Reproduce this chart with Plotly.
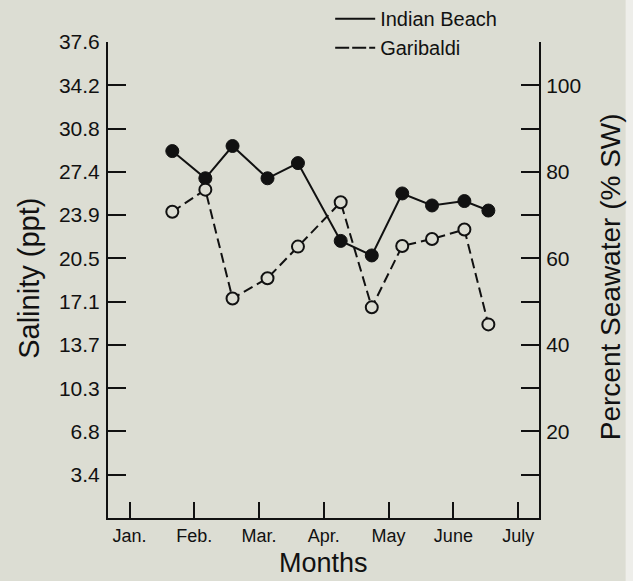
import plotly.graph_objects as go

# Sampling dates as fractional months from the start of January (Jan. = 0)
sample_month = [0.66, 1.17, 1.59, 2.13, 2.60, 3.26, 3.74, 4.21, 4.67, 5.17, 5.54]

# Salinity (ppt) at each station
indian_beach = [29.0, 26.85, 29.4, 26.85, 28.05, 21.9, 20.75, 25.65, 24.7, 25.05, 24.3]
garibaldi = [24.2, 25.95, 17.35, 18.95, 21.45, 24.95, 16.65, 21.5, 22.05, 22.8, 15.3]

month_labels = ["Jan.", "Feb.", "Mar.", "Apr.", "May", "June", "July"]
salinity_labels = ["3.4", "6.8", "10.3", "13.7", "17.1", "20.5", "23.9", "27.4", "30.8", "34.2", "37.6"]
percent_ticks = [10, 20, 30, 40, 50, 60, 70, 80, 90, 100, 110]
percent_labels = ["", "20", "", "40", "", "60", "", "80", "", "100", ""]

SEAWATER_PPT = 34.2  # 100 % seawater
ppt_ticks = [SEAWATER_PPT * p / 100 for p in percent_ticks]

BG = "rgb(220,221,211)"
INK = "#111111"
FONT = "Liberation Sans, Arial, Helvetica, sans-serif"

fig = go.Figure()

fig.add_trace(go.Scatter(
    x=sample_month, y=indian_beach, mode="lines+markers",
    line=dict(color=INK, width=2),
    marker=dict(symbol="circle", size=13, color=INK, line=dict(color=INK, width=1)),
    showlegend=False, name="Indian Beach",
))
fig.add_trace(go.Scatter(
    x=sample_month, y=garibaldi, mode="lines+markers",
    line=dict(color=INK, width=2, dash="10px,5px"),
    marker=dict(symbol="circle", size=12, color=BG, line=dict(color=INK, width=2)),
    showlegend=False, name="Garibaldi",
))

# legend keys (line samples only)
fig.add_trace(go.Scatter(
    x=[None], y=[None], mode="lines", name="Indian Beach",
    line=dict(color=INK, width=2),
))
fig.add_trace(go.Scatter(
    x=[None], y=[None], mode="lines", name="Garibaldi",
    line=dict(color=INK, width=2, dash="14px,3px"),
))

# secondary axis carrier (percent seawater)
fig.add_trace(go.Scatter(
    x=[None], y=[None], yaxis="y2", showlegend=False, hoverinfo="skip",
))

fig.update_layout(
    width=633, height=581,
    margin=dict(l=108, r=94, t=42, b=63, autoexpand=False),
    paper_bgcolor=BG, plot_bgcolor=BG,
    font=dict(family=FONT, color=INK),
    xaxis=dict(
        range=[-0.333, 6.322],
        tickvals=list(range(len(month_labels))), ticktext=month_labels,
        ticks="inside", ticklen=16, tickwidth=2, tickcolor=INK,
        tickfont=dict(size=18, color=INK), tickangle=0,
        showline=True, linecolor=INK, linewidth=2,
        showgrid=False, zeroline=False,
    ),
    yaxis=dict(
        range=[0, SEAWATER_PPT * 1.1],
        tickvals=ppt_ticks, ticktext=salinity_labels,
        ticks="inside", ticklen=18, tickwidth=2, tickcolor=INK,
        tickfont=dict(size=21, color=INK), ticklabelstandoff=2,
        showline=True, linecolor=INK, linewidth=2,
        showgrid=False, zeroline=False,
    ),
    yaxis2=dict(
        overlaying="y", side="right",
        range=[0, 110],
        tickvals=percent_ticks, ticktext=percent_labels,
        ticks="inside", ticklen=18, tickwidth=2, tickcolor=INK,
        tickfont=dict(size=21, color=INK), ticklabelstandoff=1,
        showline=True, linecolor=INK, linewidth=2,
        showgrid=False, zeroline=False,
    ),
    legend=dict(
        x=0.5155, y=1.09, xanchor="left", yanchor="top",
        bgcolor="rgba(0,0,0,0)", font=dict(size=20, color=INK),
        tracegroupgap=0, itemwidth=40,
    ),
    annotations=[
        dict(text="Salinity (ppt)", xref="paper", yref="paper",
             x=-0.184, y=0.504, textangle=-90, showarrow=False,
             xanchor="center", yanchor="middle", font=dict(size=29, color=INK)),
        dict(text="Percent Seawater (% SW)", xref="paper", yref="paper",
             x=1.166, y=0.507, textangle=-90, showarrow=False,
             xanchor="center", yanchor="middle", font=dict(size=28, color=INK)),
        dict(text="Months", xref="paper", yref="paper",
             x=0.499, y=-0.094, showarrow=False,
             xanchor="center", yanchor="middle", font=dict(size=27, color=INK)),
    ],
    shapes=[
        # pale strip along the right page edge
        dict(type="rect", xref="paper", yref="paper",
             x0=1.201, x1=1.3, y0=-0.2, y1=1.2,
             fillcolor="rgb(238,238,234)", line=dict(width=0), layer="below"),
    ],
)

fig.write_html("out.html")
